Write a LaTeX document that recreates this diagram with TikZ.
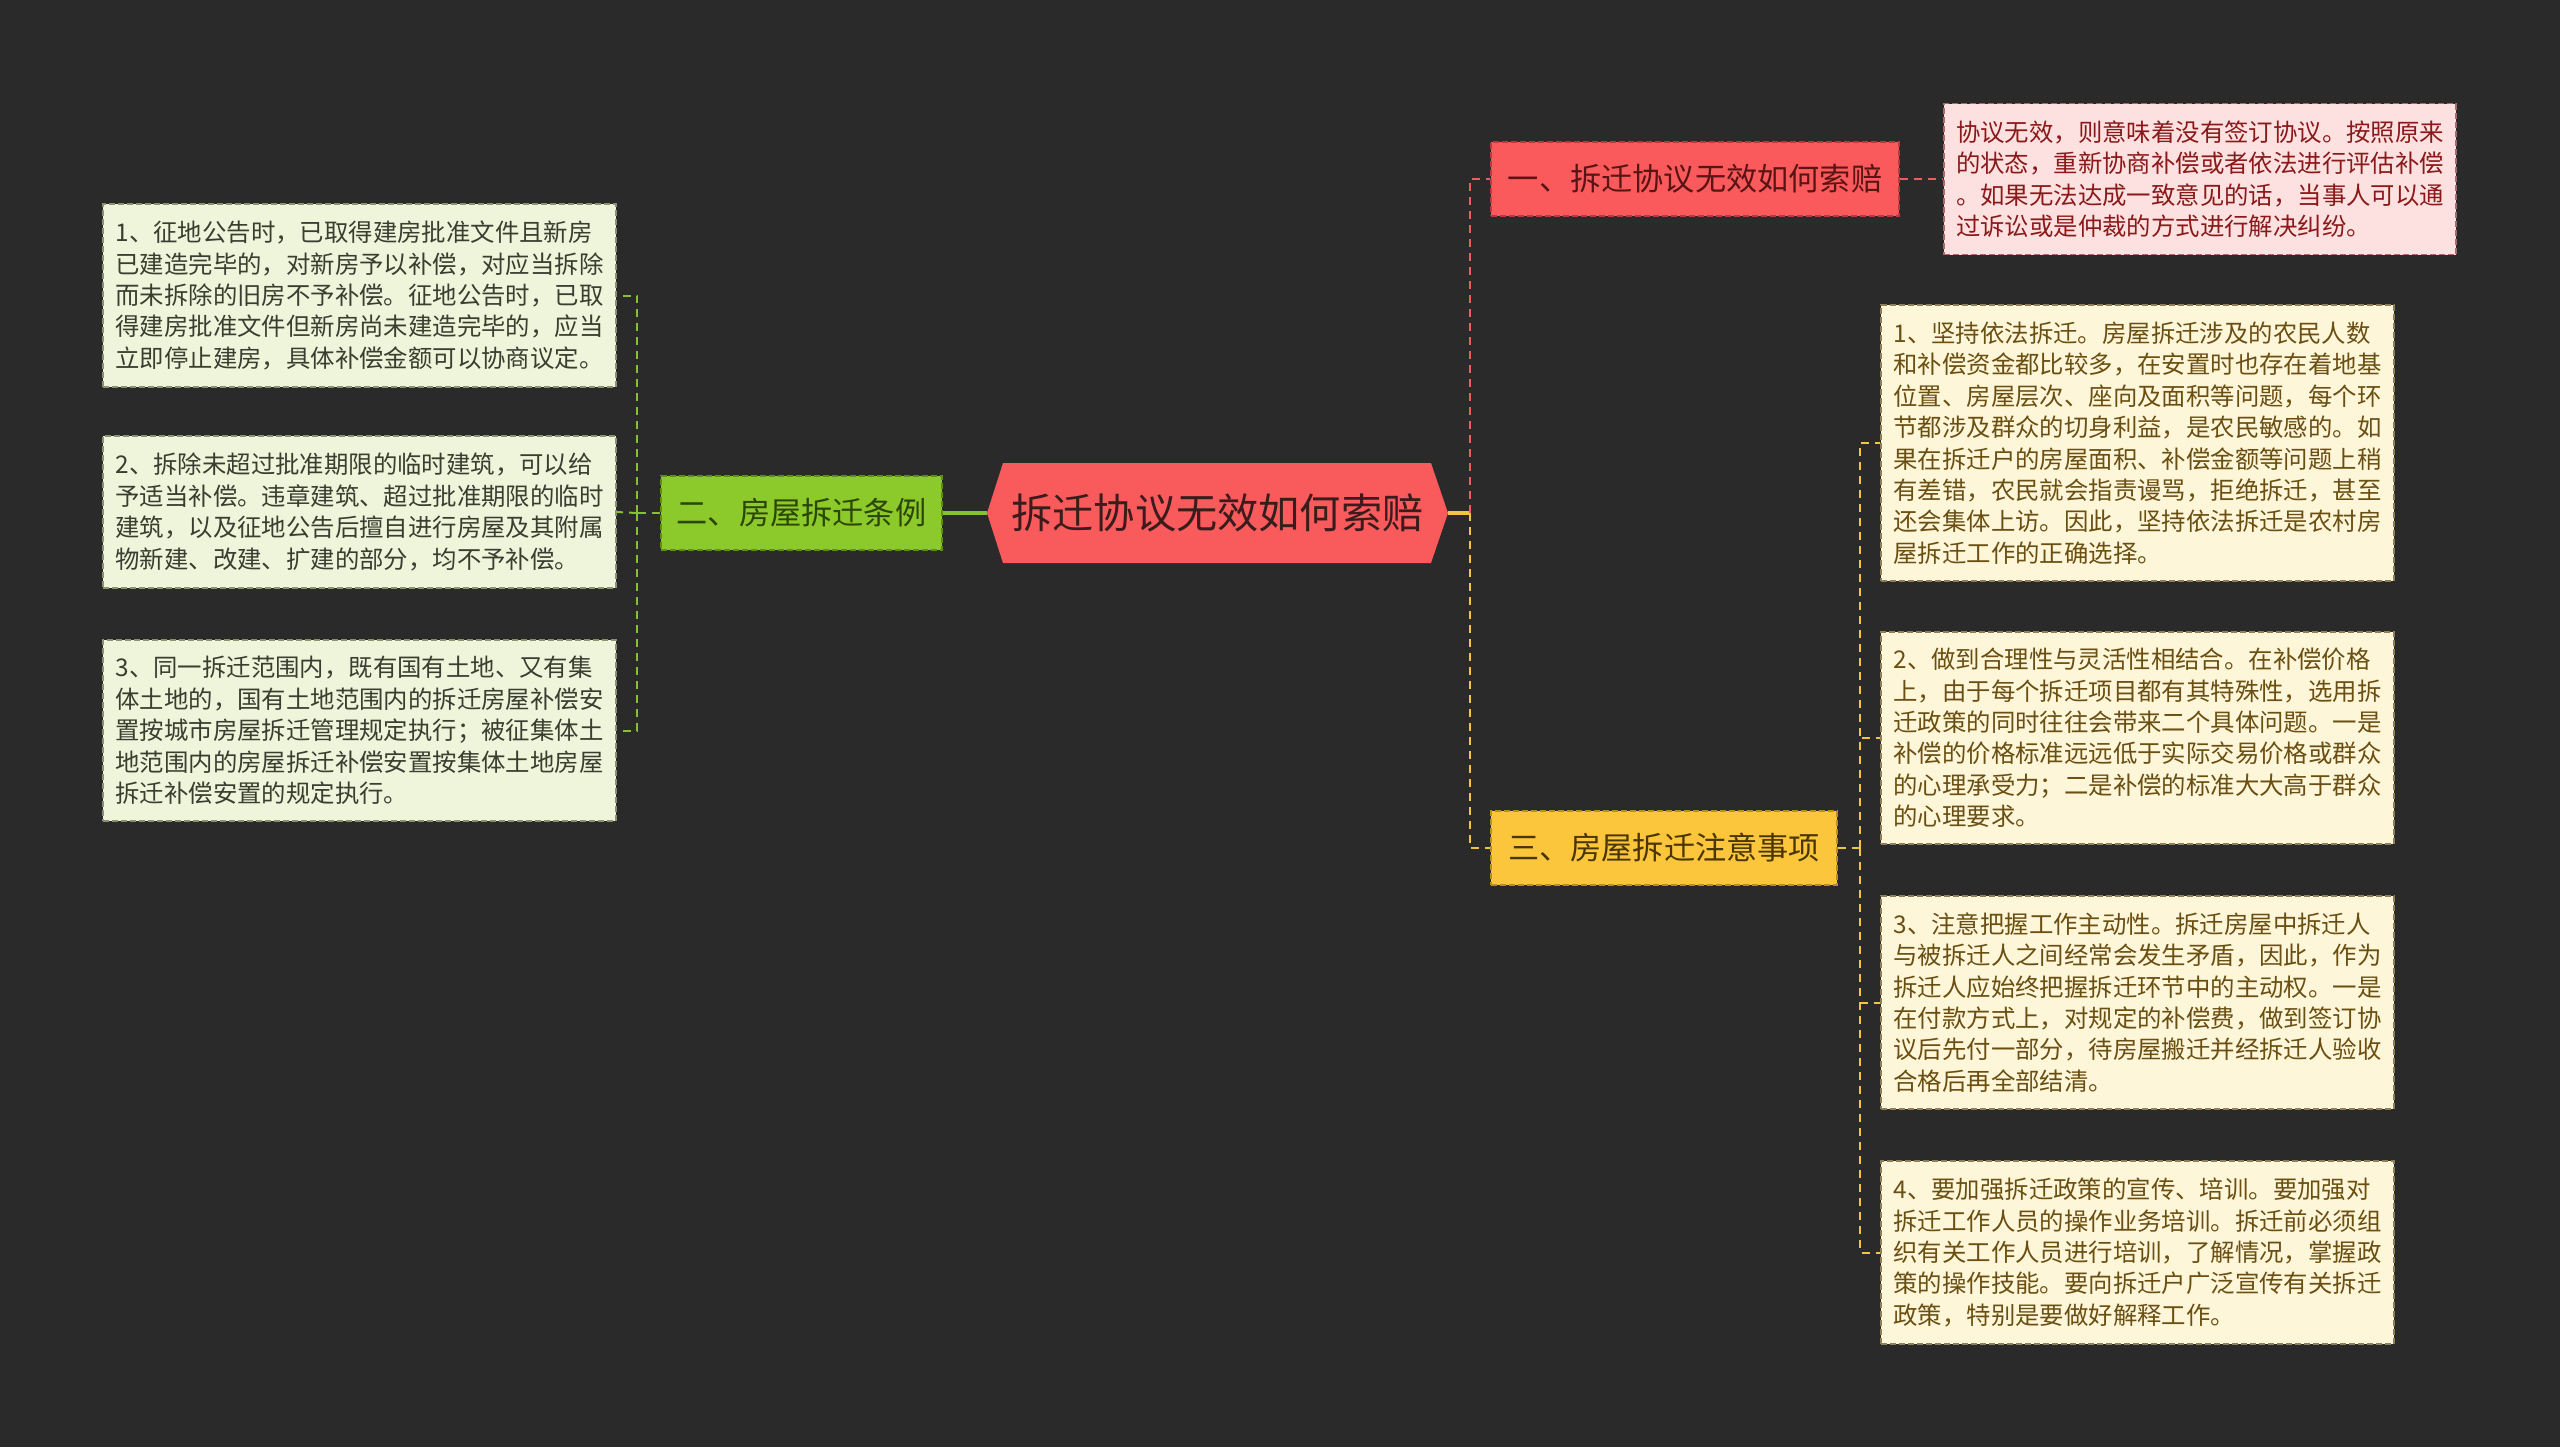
\documentclass[tikz,border=0pt]{standalone}
\usepackage{fontspec}
\newfontfamily\cjk{Noto Sans CJK SC}
\usetikzlibrary{calc}
\definecolor{bg}{HTML}{2A2A2A}
\definecolor{hexfill}{HTML}{F95A5C}
\definecolor{hextext}{HTML}{3A1C1C}
\definecolor{gnfill}{HTML}{8CC92A}
\definecolor{gndraw}{HTML}{5E8F14}
\definecolor{gntext}{HTML}{2C4606}
\definecolor{rnfill}{HTML}{FA5A5C}
\definecolor{rndraw}{HTML}{B83A3C}
\definecolor{rntext}{HTML}{5A1414}
\definecolor{ynfill}{HTML}{FBC63C}
\definecolor{yndraw}{HTML}{B88E1E}
\definecolor{yntext}{HTML}{4A3600}
\definecolor{pkfill}{HTML}{FDE1E1}
\definecolor{pkdraw}{HTML}{A86A6A}
\definecolor{pktext}{HTML}{8A1A1A}
\definecolor{crfill}{HTML}{FDF6D9}
\definecolor{crdraw}{HTML}{8E7F58}
\definecolor{crtext}{HTML}{6B4F12}
\definecolor{lgfill}{HTML}{EEF5DA}
\definecolor{lgdraw}{HTML}{8A9270}
\definecolor{lgtext}{HTML}{3A3D30}
\definecolor{redline}{HTML}{E85F60}
\definecolor{yelline}{HTML}{F2C445}
\definecolor{grnline}{HTML}{86C22C}
\begin{document}
\begin{tikzpicture}[x=0.5pt,y=-0.5pt,
  txtbox/.style={draw, dash pattern=on 3pt off 1.5pt, line width=0.6pt,
    text width=244pt, inner xsep=6.25pt, inner ysep=3pt, align=left,
    font=\cjk\fontsize{12.2pt}{15.7pt}\selectfont, anchor=center},
  lbox/.style={txtbox, fill=lgfill, draw=lgdraw, text=lgtext},
  rbox/.style={txtbox, fill=crfill, draw=crdraw, text=crtext},
  pbox/.style={txtbox, fill=pkfill, draw=pkdraw, text=pktext},
  topic/.style={draw, dash pattern=on 3pt off 1.5pt, line width=0.6pt, inner sep=0pt,
    minimum height=37pt, font=\cjk\fontsize{15.6pt}{18pt}\selectfont, anchor=center},
  reddash/.style={draw=redline, line width=1pt, dash pattern=on 4pt off 3pt},
  yeldash/.style={draw=yelline, line width=1pt, dash pattern=on 4pt off 3pt},
  grndash/.style={draw=grnline, line width=1pt, dash pattern=on 4pt off 3pt}]
\fill[bg] (0,0) rectangle (2560,1447);
\useasboundingbox (0,0) rectangle (2560,1447);

% central hexagon
\fill[hexfill] (987,513) -- (1003,463) -- (1431,463) -- (1448,513) -- (1431,563) -- (1003,563) -- cycle;
\coordinate (cl) at (987,513);
\coordinate (cr) at (1448,513);
\node[font=\cjk\fontsize{20.6pt}{24pt}\selectfont, text=hextext, inner sep=0pt] (center) at (1217.5,513) {拆迁协议无效如何索赔};

% main topics
\node[topic, fill=gnfill, draw=gndraw, text=gntext, minimum width=140.5pt] (gn) at (801.5,513) {二、房屋拆迁条例};
\node[topic, fill=rnfill, draw=rndraw, text=rntext, minimum width=204pt] (rn) at (1695,179) {一、拆迁协议无效如何索赔};
\node[topic, fill=ynfill, draw=yndraw, text=yntext, minimum width=173pt] (yn) at (1664,848) {三、房屋拆迁注意事项};

% pink box
\node[pbox, inner xsep=6pt, minimum height=75.5pt] (pk) at (2200,179) {协议无效，则意味着没有签订协议。按照原来\\的状态，重新协商补偿或者依法进行评估补偿\\。如果无法达成一致意见的话，当事人可以通\\过诉讼或是仲裁的方式进行解决纠纷。};

% left boxes
\node[lbox, minimum height=91.5pt] (l1) at (359.5,295.5) {1、征地公告时，已取得建房批准文件且新房\\已建造完毕的，对新房予以补偿，对应当拆除\\而未拆除的旧房不予补偿。征地公告时，已取\\得建房批准文件但新房尚未建造完毕的，应当\\立即停止建房，具体补偿金额可以协商议定。};
\node[lbox, minimum height=76pt] (l2) at (359.5,512) {2、拆除未超过批准期限的临时建筑，可以给\\予适当补偿。违章建筑、超过批准期限的临时\\建筑，以及征地公告后擅自进行房屋及其附属\\物新建、改建、扩建的部分，均不予补偿。};
\node[lbox, minimum height=90.5pt] (l3) at (359.5,730.5) {3、同一拆迁范围内，既有国有土地、又有集\\体土地的，国有土地范围内的拆迁房屋补偿安\\置按城市房屋拆迁管理规定执行；被征集体土\\地范围内的房屋拆迁补偿安置按集体土地房屋\\拆迁补偿安置的规定执行。};

% right boxes
\node[rbox, minimum height=138pt] (r1) at (2137.5,443) {1、坚持依法拆迁。房屋拆迁涉及的农民人数\\和补偿资金都比较多，在安置时也存在着地基\\位置、房屋层次、座向及面积等问题，每个环\\节都涉及群众的切身利益，是农民敏感的。如\\果在拆迁户的房屋面积、补偿金额等问题上稍\\有差错，农民就会指责谩骂，拒绝拆迁，甚至\\还会集体上访。因此，坚持依法拆迁是农村房\\屋拆迁工作的正确选择。};
\node[rbox, minimum height=106pt] (r2) at (2137.5,738) {2、做到合理性与灵活性相结合。在补偿价格\\上，由于每个拆迁项目都有其特殊性，选用拆\\迁政策的同时往往会带来二个具体问题。一是\\补偿的价格标准远远低于实际交易价格或群众\\的心理承受力；二是补偿的标准大大高于群众\\的心理要求。};
\node[rbox, minimum height=106.5pt] (r3) at (2137.5,1002.5) {3、注意把握工作主动性。拆迁房屋中拆迁人\\与被拆迁人之间经常会发生矛盾，因此，作为\\拆迁人应始终把握拆迁环节中的主动权。一是\\在付款方式上，对规定的补偿费，做到签订协\\议后先付一部分，待房屋搬迁并经拆迁人验收\\合格后再全部结清。};
\node[rbox, minimum height=91.5pt] (r4) at (2137.5,1252.5) {4、要加强拆迁政策的宣传、培训。要加强对\\拆迁工作人员的操作业务培训。拆迁前必须组\\织有关工作人员进行培训，了解情况，掌握政\\策的操作技能。要向拆迁户广泛宣传有关拆迁\\政策，特别是要做好解释工作。};

% connectors
\coordinate (ct) at (1470,513);
\coordinate (lt) at (637,513);
\coordinate (yt) at (1860,848);
\draw[draw=grnline, line width=2.2pt] (cl) -- (gn.east);
\draw[draw=yelline, line width=1.6pt] (cr) -- (ct);
\draw[reddash] (ct) |- (rn.west);
\draw[yeldash] (ct) |- (yn.west);
\draw[reddash] (rn.east) -- (pk.west);
\draw[grndash] (gn.west) -- (lt);
\draw[grndash] (lt) |- (l1.east);
\draw[grndash] (lt) -- (l2.east);
\draw[grndash] (lt) |- (l3.east);
\draw[yeldash] (yn.east) -- (yt);
\draw[yeldash] (yt) |- (r1.west);
\draw[yeldash] (yt) |- (r2.west);
\draw[yeldash] (yt) |- (r3.west);
\draw[yeldash] (yt) |- (r4.west);
\end{tikzpicture}
\end{document}
